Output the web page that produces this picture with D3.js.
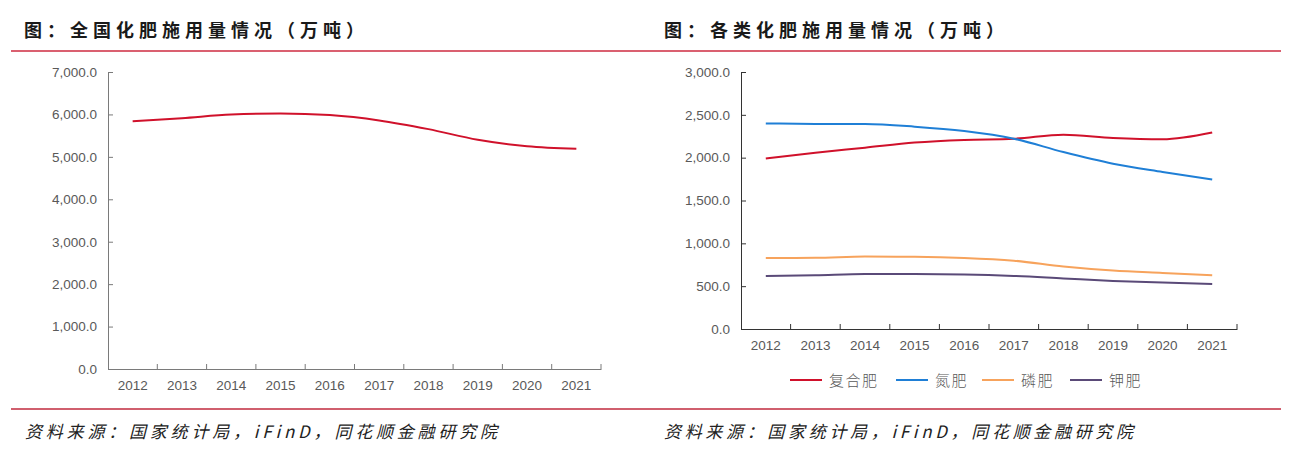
<!DOCTYPE html>
<html><head><meta charset="utf-8">
<script src="https://cdn.jsdelivr.net/npm/d3@7"></script>
<style>
html,body{margin:0;padding:0;background:#fff;}
svg{display:block;}
</style></head>
<body>
<svg id="c" width="1301" height="450"></svg>
<script>
// ---- data ----
const years = ["2012","2013","2014","2015","2016","2017","2018","2019","2020","2021"];
const totalUse = [5838.8,5911.9,5995.9,6022.6,5984.4,5859.4,5653.4,5403.6,5250.7,5191.3];
const compound = [1990.0,2057.5,2115.8,2175.7,2207.1,2221.0,2268.8,2230.7,2215.0,2294.0];
const nitrogen = [2399.9,2394.2,2392.9,2361.6,2310.5,2221.8,2065.4,1930.2,1833.9,1745.3];
const phosphate = [828.6,830.6,845.3,843.1,830.0,797.6,728.9,681.6,653.8,627.9];
const potash = [617.7,627.4,641.9,642.3,636.9,619.7,590.3,561.1,541.9,524.8];
const seriesNames = ["复合肥","氮肥","磷肥","钾肥"];
const seriesColors = ["#d0112b","#1f7fd6","#f7a35c","#5a4a78"];
const leftTicks = [0,1000,2000,3000,4000,5000,6000,7000];
const rightTicks = [0,500,1000,1500,2000,2500,3000];
const titles = ["图：全国化肥施用量情况（万吨）","图：各类化肥施用量情况（万吨）"];
const sourceText = "资料来源：国家统计局，iFinD，同花顺金融研究院";

const svg = d3.select("#c");
const fmt = d3.format(",.1f");
const tickFont = "'Liberation Sans', Arial, sans-serif";
const cjk = "'Noto Sans CJK SC', sans-serif";

// header / footer rules
svg.append("line").attr("x1",11).attr("x2",1281).attr("y1",51).attr("y2",51)
  .attr("stroke","#da6070").attr("stroke-width",2);
svg.append("line").attr("x1",11).attr("x2",1281).attr("y1",409).attr("y2",409)
  .attr("stroke","#c02a3e").attr("stroke-width",1.5);

[[24,titles[0]],[664,titles[1]]].forEach(([x,t])=>{
  svg.append("text").attr("x",x).attr("y",37).text(t)
    .attr("font-family",cjk).attr("font-size",18).attr("font-weight",700)
    .attr("fill","#1a1a1a").attr("textLength",340).attr("lengthAdjust","spacing");
});
[[25,497],[664,1133]].forEach(([x,x2])=>{
  svg.append("text").attr("x",x).attr("y",438).text(sourceText)
    .attr("font-family",cjk).attr("font-size",17).attr("font-style","italic")
    .attr("fill","#222").attr("textLength",x2-x).attr("lengthAdjust","spacing");
});

function drawChart(cfg){
  const x = d3.scaleBand().domain(years).range([cfg.x0,cfg.x1]).padding(0);
  const y = d3.scaleLinear().domain([0,cfg.max]).range([cfg.yb,cfg.yt]);
  const g = svg.append("g");
  // y axis
  const ya = g.append("g").attr("transform",`translate(${cfg.x0},0)`)
    .call(d3.axisLeft(y).tickValues(cfg.ticks).tickFormat(fmt).tickSizeInner(-5).tickSizeOuter(0).tickPadding(11));
  ya.select(".domain").attr("stroke",cfg.axisColor);
  ya.selectAll(".tick line").attr("stroke",cfg.axisColor);
  ya.selectAll("text").attr("font-family",tickFont).attr("font-size",13.5).attr("fill","#595959");
  // x axis
  const xa = g.append("g").attr("transform",`translate(0,${cfg.yb})`)
    .call(d3.axisBottom(x).tickSize(0).tickPadding(11));
  xa.select(".domain").attr("stroke",cfg.axisColor).attr("stroke-width",1.2);
  xa.selectAll("text").attr("font-family",tickFont).attr("font-size",13.5).attr("fill","#595959");
  const bounds = years.map(d=>x(d)+x.bandwidth());
  xa.selectAll(".bt").data(bounds).join("line").attr("class","bt")
    .attr("x1",d=>d).attr("x2",d=>d).attr("y1",0).attr("y2",-5).attr("stroke",cfg.axisColor);
  // lines
  const line = d3.line().x((d,i)=>x(years[i])+x.bandwidth()/2).y(d=>y(d)).curve(d3.curveMonotoneX);
  cfg.series.forEach((s,k)=>{
    g.append("path").datum(s).attr("d",line).attr("fill","none")
      .attr("stroke",cfg.colors[k]).attr("stroke-width",2);
  });
}

drawChart({x0:108,x1:601,yb:369,yt:72,max:7000,ticks:leftTicks,axisColor:"#7a7a7a",
  series:[totalUse],colors:["#d0112b"]});
drawChart({x0:741,x1:1237,yb:329,yt:72,max:3000,ticks:rightTicks,axisColor:"#333",
  series:[compound,nitrogen,phosphate,potash],colors:seriesColors});

// legend
const legX = [790,896,982,1070];
const lg = svg.append("g");
seriesNames.forEach((n,i)=>{
  lg.append("line").attr("x1",legX[i]).attr("x2",legX[i]+32).attr("y1",380).attr("y2",380)
    .attr("stroke",seriesColors[i]).attr("stroke-width",2);
  lg.append("text").attr("x",legX[i]+39).attr("y",385.5).text(n)
    .attr("font-family",cjk).attr("font-size",15).attr("font-weight",300)
    .attr("letter-spacing",1.5).attr("fill","#595959");
});
</script>
</body></html>
